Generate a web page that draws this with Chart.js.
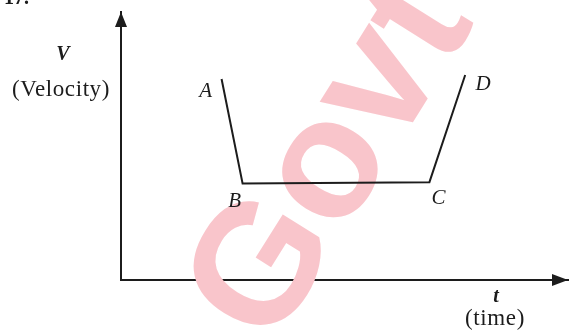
<!DOCTYPE html>
<html>
<head>
<meta charset="utf-8">
<script src="https://cdn.jsdelivr.net/npm/chart.js@4.4.1/dist/chart.umd.min.js"></script>
<style>
  html, body { margin: 0; padding: 0; background: #fff; }
  #wrap { width: 569px; height: 333px; }
</style>
</head>
<body>
<div id="wrap"><canvas id="vt"></canvas></div>
<script>
// velocity-time graph A-B-C-D
const pointNames = ['A', 'B', 'C', 'D'];
const times = [2.25, 2.72, 6.9, 7.7];
const velocities = [7.5, 3.6, 3.65, 7.65];

const axisNames = { y: ['V', '(Velocity)'], x: ['t', '(time)'] };
const watermark = 'Govt';

const ink = '#1c1c1c';
const serif = '"Liberation Serif", "DejaVu Serif", serif';

// where each point letter sits relative to its point
const nameOffset = { A: [-16, 12], B: [-8, 18], C: [9, 16], D: [18, 10] };

const sketchPlugin = {
    id: 'sketch',
    beforeDatasetsDraw(chart) {
        const ctx = chart.ctx;
        // faint watermark behind everything
        ctx.save();
        ctx.translate(373, 186);
        ctx.rotate(-58 * Math.PI / 180);
        ctx.font = 'bold 170px "Liberation Sans", Arial, sans-serif';
        ctx.fillStyle = '#f9c5cb';
        ctx.textAlign = 'center';
        ctx.textBaseline = 'alphabetic';
        ctx.fillText(watermark, 0, 0);
        ctx.restore();
    },
    afterDatasetsDraw(chart) {
        const ctx = chart.ctx;
        const area = chart.chartArea;
        ctx.save();
        ctx.fillStyle = ink;

        // arrow heads
        ctx.beginPath();
        ctx.moveTo(area.left, area.top);
        ctx.lineTo(area.left - 6, area.top + 15);
        ctx.lineTo(area.left + 6, area.top + 15);
        ctx.closePath();
        ctx.fill();

        ctx.beginPath();
        ctx.moveTo(area.right, area.bottom);
        ctx.lineTo(area.right - 16, area.bottom - 6);
        ctx.lineTo(area.right - 16, area.bottom + 6);
        ctx.closePath();
        ctx.fill();

        ctx.textAlign = 'center';
        ctx.textBaseline = 'middle';

        // point letters
        const meta = chart.getDatasetMeta(0);
        ctx.font = 'italic 21px ' + serif;
        meta.data.forEach((pt, i) => {
            const off = nameOffset[pointNames[i]];
            ctx.fillText(pointNames[i], pt.x + off[0], pt.y + off[1]);
        });

        // axis names
        ctx.font = 'bold italic 20px ' + serif;
        ctx.fillText(axisNames.y[0], 63, 55);
        ctx.fillText(axisNames.x[0], 496, 297);
        ctx.font = '23px ' + serif;
        ctx.letterSpacing = '0.6px';
        ctx.fillText(axisNames.y[1], 61, 90);
        ctx.fillText(axisNames.x[1], 495, 319);
        ctx.letterSpacing = '0px';

        // cropped question number at the top edge
        ctx.font = 'bold 20px ' + serif;
        ctx.textAlign = 'left';
        ctx.textBaseline = 'alphabetic';
        ctx.fillText('17.', 4, 4);
        ctx.restore();
    }
};

new Chart(document.getElementById('vt'), {
    type: 'line',
    data: {
        datasets: [{
            data: times.map((t, i) => ({ x: t, y: velocities[i] })),
            borderColor: ink,
            borderWidth: 2,
            pointRadius: 0,
            tension: 0,
            fill: false
        }]
    },
    options: {
        responsive: true,
        maintainAspectRatio: false,
        animation: false,
        events: [],
        layout: { padding: { left: 121, top: 12, right: 1, bottom: 53 } },
        plugins: { legend: { display: false }, tooltip: { enabled: false } },
        scales: {
            x: {
                type: 'linear', min: 0, max: 10,
                grid: { display: false },
                ticks: { display: false },
                border: { display: true, color: ink, width: 2 },
                afterFit: s => { s.height = 0; }
            },
            y: {
                type: 'linear', min: 0, max: 10,
                grid: { display: false },
                ticks: { display: false },
                border: { display: true, color: ink, width: 2 },
                afterFit: s => { s.width = 0; }
            }
        }
    },
    plugins: [sketchPlugin]
});
</script>
</body>
</html>
